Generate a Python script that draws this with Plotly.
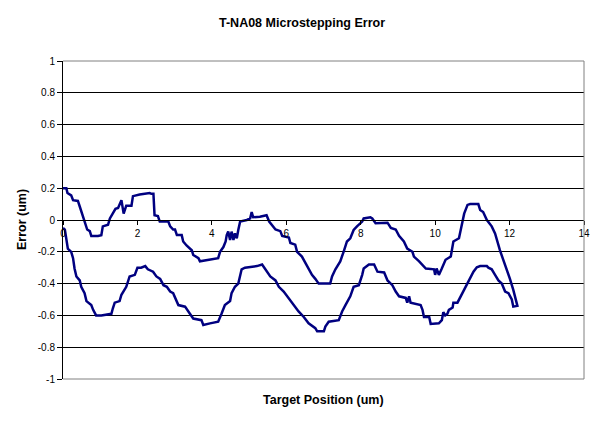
import plotly.graph_objects as go

title_text = "T-NA08 Microstepping Error"
x_title = "Target Position (um)"
y_title = "Error (um)"

x_ticks = [0, 2, 4, 6, 8, 10, 12, 14]
y_ticks = [-1, -0.8, -0.6, -0.4, -0.2, 0, 0.2, 0.4, 0.6, 0.8, 1]
y_tick_labels = ["-1", "-0.8", "-0.6", "-0.4", "-0.2", "0", "0.2", "0.4", "0.6", "0.8", "1"]

# forward pass (upper curve)
x_fwd = [0.0, 0.09, 0.12, 0.22, 0.27, 0.40, 0.45, 0.58, 0.65, 0.72, 0.76, 0.94, 1.03, 1.07, 1.21,
         1.26, 1.34, 1.41, 1.48, 1.57, 1.63, 1.70, 1.84, 1.88, 2.06, 2.33, 2.37, 2.43, 2.46, 2.55,
         2.60, 2.83, 2.88, 2.96, 3.01, 3.06, 3.19, 3.23, 3.32, 3.46, 3.50, 3.64, 3.68, 3.95, 4.17,
         4.22, 4.31, 4.37, 4.40, 4.44, 4.49, 4.53, 4.58, 4.62, 4.67, 4.71, 4.76, 4.94, 5.03, 5.07,
         5.11, 5.29, 5.47, 5.54, 5.57, 5.71, 5.84, 5.89, 6.07, 6.11, 6.24, 6.29, 6.42, 6.51, 6.60,
         6.69, 6.78, 6.87, 7.18, 7.23, 7.32, 7.45, 7.54, 7.63, 7.72, 7.81, 7.90, 8.04, 8.08, 8.26,
         8.31, 8.40, 8.72, 8.81, 8.94, 9.03, 9.16, 9.25, 9.39, 9.43, 9.57, 9.75, 9.97, 10.00, 10.04,
         10.10, 10.17, 10.28, 10.42, 10.49, 10.64, 10.70, 10.78, 10.87, 10.94, 11.16, 11.21, 11.29,
         11.39, 11.52, 11.61, 11.74, 11.88, 12.01, 12.10, 12.21]
y_fwd = [0.20, 0.20, 0.17, 0.155, 0.125, 0.12, 0.085, -0.01, -0.06, -0.07, -0.10, -0.10, -0.095, -0.04, -0.03,
         0.01, 0.04, 0.07, 0.075, 0.125, 0.04, 0.09, 0.09, 0.15, 0.16, 0.17, 0.165, 0.165, 0.03, 0.025,
         -0.01, -0.01, -0.04, -0.06, -0.06, -0.095, -0.095, -0.135, -0.16, -0.19, -0.22, -0.24, -0.26, -0.25, -0.24,
         -0.20, -0.17, -0.135, -0.095, -0.073, -0.126, -0.073, -0.126, -0.084, -0.115, -0.063, -0.01, 0.0, 0.01, 0.05,
         0.017, 0.02, 0.03, -0.01, -0.02, -0.06, -0.07, -0.10, -0.11, -0.145, -0.155, -0.20, -0.23, -0.27, -0.31,
         -0.345, -0.37, -0.40, -0.40, -0.355, -0.31, -0.26, -0.20, -0.135, -0.115, -0.063, -0.04, -0.01, 0.01, 0.017,
         0.01, -0.02, -0.017, -0.05, -0.06, -0.10, -0.135, -0.18, -0.20, -0.23, -0.26, -0.305, -0.31, -0.345, -0.305,
         -0.345, -0.31, -0.25, -0.23, -0.135, -0.115, -0.04, 0.04, 0.095, 0.10, 0.10, 0.063, 0.05,
         0.0, -0.04, -0.085, -0.19, -0.28, -0.37, -0.44, -0.54]

# return pass (lower curve)
x_rev = [12.21, 12.10, 12.06, 11.97, 11.88, 11.79, 11.70, 11.61, 11.52, 11.43, 11.39, 11.21, 11.12, 11.03,
         10.87, 10.78, 10.69, 10.60, 10.49, 10.47, 10.37, 10.33, 10.27, 10.22, 10.18, 10.10, 9.88, 9.84,
         9.70, 9.66, 9.61, 9.34, 9.30, 9.25, 9.21, 9.03, 8.94, 8.85, 8.72, 8.63, 8.45, 8.36, 8.22, 8.08,
         8.04, 7.95, 7.81, 7.72, 7.59, 7.50, 7.41, 7.14, 7.05, 7.01, 6.83, 6.78, 6.60, 6.47, 6.33, 6.20,
         6.07, 5.93, 5.80, 5.71, 5.57, 5.44, 5.35, 5.21, 4.89, 4.80, 4.71, 4.62, 4.53, 4.49, 4.35, 4.26,
         4.17, 3.95, 3.77, 3.72, 3.50, 3.41, 3.28, 3.10, 2.96, 2.88, 2.79, 2.70, 2.61, 2.51, 2.42, 2.28,
         2.21, 2.10, 2.00, 1.93, 1.79, 1.70, 1.57, 1.52, 1.39, 1.34, 1.30, 1.03, 0.89, 0.81, 0.76, 0.63,
         0.58, 0.49, 0.45, 0.36, 0.31, 0.27, 0.22, 0.13, 0.09, 0.05, 0.0]
y_rev = [-0.54, -0.545, -0.50, -0.46, -0.45, -0.40, -0.38, -0.345, -0.31, -0.30, -0.29, -0.29, -0.297, -0.325,
         -0.40, -0.44, -0.48, -0.52, -0.52, -0.55, -0.565, -0.59, -0.60, -0.58, -0.63, -0.65, -0.654, -0.61,
         -0.61, -0.565, -0.535, -0.52, -0.48, -0.52, -0.49, -0.48, -0.45, -0.41, -0.38, -0.33, -0.325, -0.28, -0.28, -0.305,
         -0.345, -0.41, -0.42, -0.48, -0.535, -0.575, -0.63, -0.64, -0.67, -0.70, -0.70, -0.68, -0.65, -0.61, -0.575, -0.535,
         -0.49, -0.45, -0.42, -0.38, -0.355, -0.31, -0.28, -0.29, -0.30, -0.31, -0.40, -0.42, -0.46, -0.51, -0.535, -0.59,
         -0.64, -0.65, -0.66, -0.63, -0.62, -0.59, -0.545, -0.535, -0.46, -0.45, -0.42, -0.41, -0.37, -0.355, -0.325, -0.31,
         -0.29, -0.30, -0.30, -0.345, -0.355, -0.42, -0.47, -0.51, -0.52, -0.555, -0.59, -0.60, -0.60, -0.565, -0.535, -0.51,
         -0.46, -0.42, -0.38, -0.355, -0.305, -0.24, -0.20, -0.18, -0.115, -0.06, -0.05]

x_all = x_fwd + x_rev
y_all = y_fwd + y_rev

FONT = "Arial, Liberation Sans, sans-serif"

fig = go.Figure()
fig.add_trace(go.Scatter(x=x_all, y=y_all, mode="lines",
                         line=dict(color="#000080", width=2.5), showlegend=False))

fig.update_layout(
    width=603, height=422,
    margin=dict(l=63, r=19, t=61, b=43),
    paper_bgcolor="white", plot_bgcolor="white",
    font=dict(family=FONT, size=10, color="black"),
    showlegend=False,
    xaxis=dict(range=[0, 14], tickvals=x_ticks, ticktext=[str(v) for v in x_ticks],
               showgrid=False, zeroline=False, showline=True, linecolor="black", linewidth=1,
               ticks="outside", ticklen=4, tickcolor="black", anchor="free", position=0.5,
               tickfont=dict(family=FONT, size=10, color="black")),
    yaxis=dict(range=[-1, 1], tickvals=y_ticks, ticktext=y_tick_labels,
               showgrid=True, gridcolor="black", gridwidth=1,
               zeroline=True, zerolinecolor="black", zerolinewidth=1,
               showline=True, linecolor="black", linewidth=1,
               ticks="outside", ticklen=5, tickcolor="black",
               tickfont=dict(family=FONT, size=10, color="black")),
    shapes=[dict(type="path", xref="paper", yref="paper",
                 path="M 0,1 L 1,1 L 1,0 L 0,0",
                 line=dict(color="#808080", width=1), layer="above")],
    annotations=[
        dict(text="<b>" + title_text + "</b>", xref="paper", yref="paper",
             x=(301.5 - 63) / 521, y=1 + (61 - 23) / 318, showarrow=False,
             xanchor="center", yanchor="middle", font=dict(family=FONT, size=12.5, color="black")),
        dict(text="<b>" + x_title + "</b>", xref="paper", yref="paper",
             x=0.5, y=-(400 - 379) / 318, showarrow=False,
             xanchor="center", yanchor="middle", font=dict(family=FONT, size=12.5, color="black")),
        dict(text="<b>" + y_title + "</b>", xref="paper", yref="paper",
             x=-(63 - 22) / 521, y=0.5, showarrow=False, textangle=-90,
             xanchor="center", yanchor="middle", font=dict(family=FONT, size=12.5, color="black")),
    ],
)

fig.write_html("out.html")
